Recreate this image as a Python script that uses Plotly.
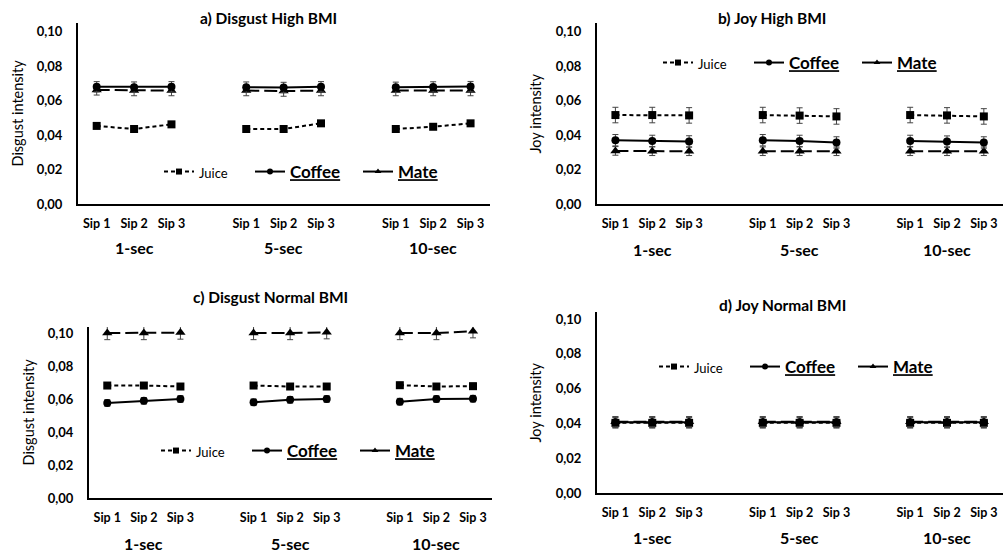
import plotly.graph_objects as go

# ---------------- data ----------------
groups = ["1-sec", "5-sec", "10-sec"]
sips = ["Sip 1", "Sip 2", "Sip 3"]
y_ticks = [0.0, 0.02, 0.04, 0.06, 0.08, 0.10]
y_tick_text = ["0,00", "0,02", "0,04", "0,06", "0,08", "0,10"]
series_names = ["Juice", "Coffee", "Mate"]

# panel a) Disgust High BMI
a_juice = [0.0453, 0.0435, 0.0462, 0.0435, 0.0435, 0.0468, 0.0435, 0.0448, 0.0468]
a_coffee = [0.0680, 0.0678, 0.0680, 0.0678, 0.0676, 0.0680, 0.0677, 0.0679, 0.0681]
a_mate = [0.0662, 0.0658, 0.0658, 0.0658, 0.0655, 0.0658, 0.0658, 0.0658, 0.0658]
a_juice_err = [0.001] * 9
a_coffee_err = [0.003] * 9
a_mate_err = [0.003] * 9

# panel b) Joy High BMI
b_juice = [0.0516, 0.0516, 0.0514, 0.0516, 0.0513, 0.0508, 0.0516, 0.0514, 0.0508]
b_coffee = [0.0370, 0.0366, 0.0363, 0.0370, 0.0366, 0.0357, 0.0366, 0.0362, 0.0357]
b_mate = [0.0308, 0.0306, 0.0306, 0.0306, 0.0306, 0.0306, 0.0306, 0.0306, 0.0306]
b_juice_err = [0.0045] * 9
b_coffee_err = [0.0033] * 9
b_mate_err = [0.0025] * 9

# panel c) Disgust Normal BMI
c_juice = [0.0684, 0.0684, 0.0678, 0.0684, 0.0678, 0.0678, 0.0686, 0.0678, 0.0680]
c_coffee = [0.0578, 0.0591, 0.0602, 0.0582, 0.0597, 0.0602, 0.0586, 0.0602, 0.0604]
c_mate = [0.1003, 0.1003, 0.1006, 0.1003, 0.1003, 0.1008, 0.1003, 0.1003, 0.1014]
c_juice_err = [0.0018] * 9
c_coffee_err = [0.002] * 9
c_mate_err = [0.004] * 9

# panel d) Joy Normal BMI
d_juice = [0.0403] * 9
d_coffee = [0.0407] * 9
d_mate = [0.0409] * 9
d_juice_err = [0.003] * 9
d_coffee_err = [0.003] * 9
d_mate_err = [0.003] * 9

titles = ["a) Disgust High BMI", "b) Joy High BMI", "c) Disgust Normal BMI", "d) Joy Normal BMI"]
y_titles = ["Disgust intensity", "Joy intensity", "Disgust intensity", "Joy intensity"]

panel_values = [
    (a_juice, a_coffee, a_mate, a_juice_err, a_coffee_err, a_mate_err),
    (b_juice, b_coffee, b_mate, b_juice_err, b_coffee_err, b_mate_err),
    (c_juice, c_coffee, c_mate, c_juice_err, c_coffee_err, c_mate_err),
    (d_juice, d_coffee, d_mate, d_juice_err, d_coffee_err, d_mate_err),
]

# ---------------- layout geometry ----------------
W, H = 1003, 557
FONT = "Lato"

def px_x(p):
    return p / W

def px_y(p):
    return 1 - p / H

# panels: left px, right px, top px, bottom px, y max, legend = (juice text start x, y)
panels = [
    dict(l=78, r=490, t=23, b=204, ymax=0.105, title=(268, 18), grp_y=248, yt_x=17,
         leg=(200, 172)),
    dict(l=597, r=1003, t=23, b=204, ymax=0.105, title=(772, 18), grp_y=249, yt_x=535,
         leg=(699, 63)),
    dict(l=89, r=492, t=327, b=498, ymax=0.104, title=(270, 297), grp_y=543, yt_x=28,
         leg=(197, 451)),
    dict(l=597, r=1003, t=312, b=493, ymax=0.104, title=(782, 305), grp_y=537, yt_x=535,
         leg=(695, 367)),
]
legend_offsets = [0, 91, 199]
LEG_TEXT_OFFSET = 41

# positions of the points: three groups of three sips with a gap of one slot
positions = []
for gi in range(len(groups)):
    for si in range(len(sips)):
        positions.append(gi * 4 + si)

def with_gaps(vals):
    out = []
    for gi in range(len(groups)):
        out.extend(vals[gi * 3:(gi + 1) * 3])
        if gi < len(groups) - 1:
            out.append(None)
    return out

x_gapped = with_gaps(positions)

styles = {
    "Juice": dict(dash="4px,3px", symbol="square", size=8),
    "Coffee": dict(dash="solid", symbol="circle", size=8),
    "Mate": dict(dash="13px,5px", symbol="triangle-up", size=9),
}
legend_names = {
    "Juice": "<span style='font-size:13px'>Juice</span>",
    "Coffee": "<u><b>Coffee</b></u>",
    "Mate": "<u><b>Mate</b></u>",
}

fig = go.Figure()
layout = dict(
    template="none",
    width=W, height=H,
    margin=dict(l=0, r=0, t=0, b=0, autoexpand=False),
    paper_bgcolor="white", plot_bgcolor="white",
    font=dict(family=FONT, color="black"),
    annotations=[],
    hovermode=False,
)

leg_count = 0
for i, (p, vals) in enumerate(zip(panels, panel_values)):
    n = i + 1
    xa = "x" if n == 1 else f"x{n}"
    ya = "y" if n == 1 else f"y{n}"
    juice, coffee, mate, je, ce, me = vals
    order = [("Juice", juice, je), ("Mate", mate, me), ("Coffee", coffee, ce)]
    for name, v, e in order:
        st = styles[name]
        fig.add_trace(go.Scatter(
            x=x_gapped, y=with_gaps(v),
            error_y=dict(type="data", array=with_gaps(e), visible=True,
                         color="#444444", thickness=1, width=3),
            mode="lines+markers",
            line=dict(color="black", width=2, dash=st["dash"]),
            marker=dict(symbol=st["symbol"], size=st["size"], color="black"),
            xaxis=xa, yaxis=ya, showlegend=False, cliponaxis=False,
            connectgaps=False, hoverinfo="skip",
        ))
    # legend entries, each in its own legend box for exact placement
    for k, name in enumerate(series_names):
        st = styles[name]
        leg_count += 1
        leg = "legend" if leg_count == 1 else f"legend{leg_count}"
        fig.add_trace(go.Scatter(
            x=[None], y=[None], mode="lines+markers", name=legend_names[name],
            line=dict(color="black", width=2,
                      dash=("4px,3px" if name == "Juice" else "solid")),
            marker=dict(symbol=st["symbol"], size=6, color="black"),
            xaxis=xa, yaxis=ya, legend=leg, showlegend=True,
        ))
        layout[leg] = dict(
            x=px_x(p["leg"][0] + legend_offsets[k] - LEG_TEXT_OFFSET),
            y=px_y(p["leg"][1]), xanchor="left", yanchor="middle",
            orientation="h", bgcolor="rgba(0,0,0,0)", borderwidth=0,
            font=dict(family=FONT, size=17, color="black"),
            itemwidth=30,
        )

    xkey = "xaxis" if n == 1 else f"xaxis{n}"
    ykey = "yaxis" if n == 1 else f"yaxis{n}"
    layout[xkey] = dict(
        domain=[px_x(p["l"]), px_x(p["r"])],
        range=[-0.5, 10.52], anchor=ya, automargin=False,
        tickvals=positions, ticktext=sips * len(groups),
        showline=True, linecolor="black", linewidth=2, showgrid=False,
        zeroline=False, ticks="", ticklabelstandoff=7,
        tickfont=dict(family=FONT, size=12.5, color="black", weight="bold"),
        fixedrange=True,
    )
    layout[ykey] = dict(
        domain=[px_y(p["b"]), px_y(p["t"])],
        range=[0, p["ymax"]], anchor=xa, automargin=False,
        tickvals=y_ticks, ticktext=y_tick_text,
        showline=True, linecolor="black", linewidth=2, showgrid=False,
        zeroline=False, ticks="", ticklabelstandoff=11,
        tickfont=dict(family=FONT, size=13, color="black", weight="bold"),
        fixedrange=True,
    )
    # title
    layout["annotations"].append(dict(
        text=f"<b>{titles[i]}</b>", x=px_x(p["title"][0]), y=px_y(p["title"][1]),
        xref="paper", yref="paper", showarrow=False, xanchor="center", yanchor="middle",
        font=dict(family=FONT, size=15.5, color="black"),
    ))
    # y title
    layout["annotations"].append(dict(
        text=y_titles[i], x=px_x(p["yt_x"]), y=(px_y(p["b"]) + px_y(p["t"])) / 2,
        xref="paper", yref="paper", showarrow=False, textangle=-90,
        xanchor="center", yanchor="middle",
        font=dict(family=FONT, size=14.5, color="black"),
    ))
    # group labels
    for gi, g in enumerate(groups):
        layout["annotations"].append(dict(
            text=f"<b>{g}</b>", x=gi * 4 + 1, y=px_y(p["grp_y"]),
            xref=xa, yref="paper", showarrow=False, xanchor="center", yanchor="middle",
            font=dict(family=FONT, size=16, color="black"),
        ))

fig.update_layout(**layout)
fig.write_html(
    "out.html",
    config={"displayModeBar": False, "staticPlot": True},
    post_script="document.body.style.margin='0';document.body.style.overflow='hidden';",
)
